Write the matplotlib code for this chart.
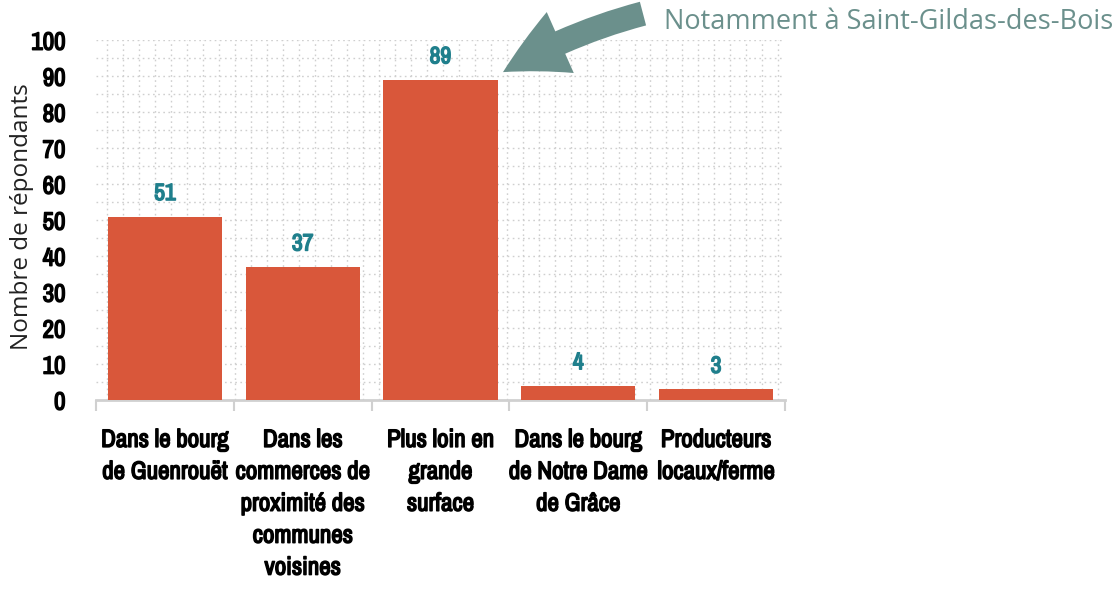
import matplotlib
matplotlib.use("Agg")
import matplotlib.pyplot as plt
import matplotlib.patheffects as pe
import numpy as np
from matplotlib.patches import FancyArrowPatch
from matplotlib import font_manager

categories = ["Dans le bourg\nde Guenrouët",
              "Dans les\ncommerces de\nproximité des\ncommunes\nvoisines",
              "Plus loin en\ngrande\nsurface",
              "Dans le bourg\nde Notre Dame\nde Grâce",
              "Producteurs\nlocaux/ferme"]
values = [51, 37, 89, 4, 3]
yticks = list(range(0, 101, 10))
note = "Notamment à Saint-Gildas-des-Bois"

# look for a narrow face among installed fonts
cond = None
cond_stretch = "normal"
for f in font_manager.fontManager.ttflist:
    if any(k in f.name for k in ("Narrow", "Condensed")):
        cond = f.name
        break
if cond is None:
    for f in font_manager.fontManager.ttflist:
        if f.stretch in ("condensed", "semi-condensed", 600, 700) or "ondensed" in f.fname:
            cond = f.name
            cond_stretch = "condensed"
            break
if cond is None:
    cond = "Roboto"


def heavy(color):
    # fake a heavier weight with a thin outline in the same colour
    return [pe.withStroke(linewidth=1.1, foreground=color)]


bar_color = "#d9573a"
label_color = "#1f7f8c"
note_color = "#6b908c"

fig = plt.figure(figsize=(11.19, 5.91), dpi=100)
ax = fig.add_axes([0.0858, 0.323, 0.6157, 0.609])

x = np.arange(len(categories))
ax.bar(x, values, width=0.83, color=bar_color, zorder=3)

for xi, v in zip(x, values):
    ax.annotate(str(v), (xi, v), xytext=(0, 9), textcoords="offset points",
                ha="center", va="bottom", fontsize=17, fontweight="bold",
                family=cond, stretch=cond_stretch, color=label_color,
                path_effects=heavy(label_color))

ax.set_xlim(-0.5, 4.5)
ax.set_ylim(0, 100)

# dotted grid
for yv in np.arange(5, 101, 5):
    ax.axhline(yv, color="#cfcfcf", lw=1, ls=(0, (1.2, 2.5)), zorder=1)
for xv in np.arange(-0.5 + 0.08, 4.5, 0.116):
    ax.axvline(xv, color="#cfcfcf", lw=1, ls=(0, (1.2, 2.5)), zorder=1)

ax.set_yticks(yticks)
ax.set_yticklabels([str(t) for t in yticks], fontsize=18, fontweight="bold",
                   family=cond, stretch=cond_stretch, path_effects=heavy("black"))
ax.tick_params(axis="y", length=0, pad=22)

ax.set_xticks(x)
ax.set_xticklabels(categories, fontsize=18, fontweight="bold", family=cond,
                   stretch=cond_stretch, linespacing=1.47, va="top",
                   path_effects=heavy("black"))
ax.tick_params(axis="x", which="major", length=0, pad=20)
ax.set_xticks(np.arange(-0.5, 4.6, 1.0), minor=True)
ax.tick_params(axis="x", which="minor", length=8, width=1.5, color="#d0d0d0")

for s in ["top", "right", "left"]:
    ax.spines[s].set_visible(False)
ax.spines["bottom"].set_color("#d0d0d0")
ax.spines["bottom"].set_linewidth(2)

fig.text(0.020, 0.634, "Nombre de répondants", rotation=90, ha="center", va="center",
         fontsize=17.5, family="Open Sans", color="#222222")

fig.text(0.9945, 0.963, note, ha="right", va="center", fontsize=19.5,
         family="Open Sans", color=note_color)

arrow = FancyArrowPatch((0.5746, 0.977), (0.4495, 0.878), transform=fig.transFigure,
                        arrowstyle="simple,head_width=3.0,head_length=2.9,tail_width=1.1",
                        connectionstyle="arc3,rad=0.07", mutation_scale=16,
                        shrinkA=0, shrinkB=0, color=note_color, lw=0)
fig.patches.append(arrow)

fig.savefig("out.png", dpi=100)
